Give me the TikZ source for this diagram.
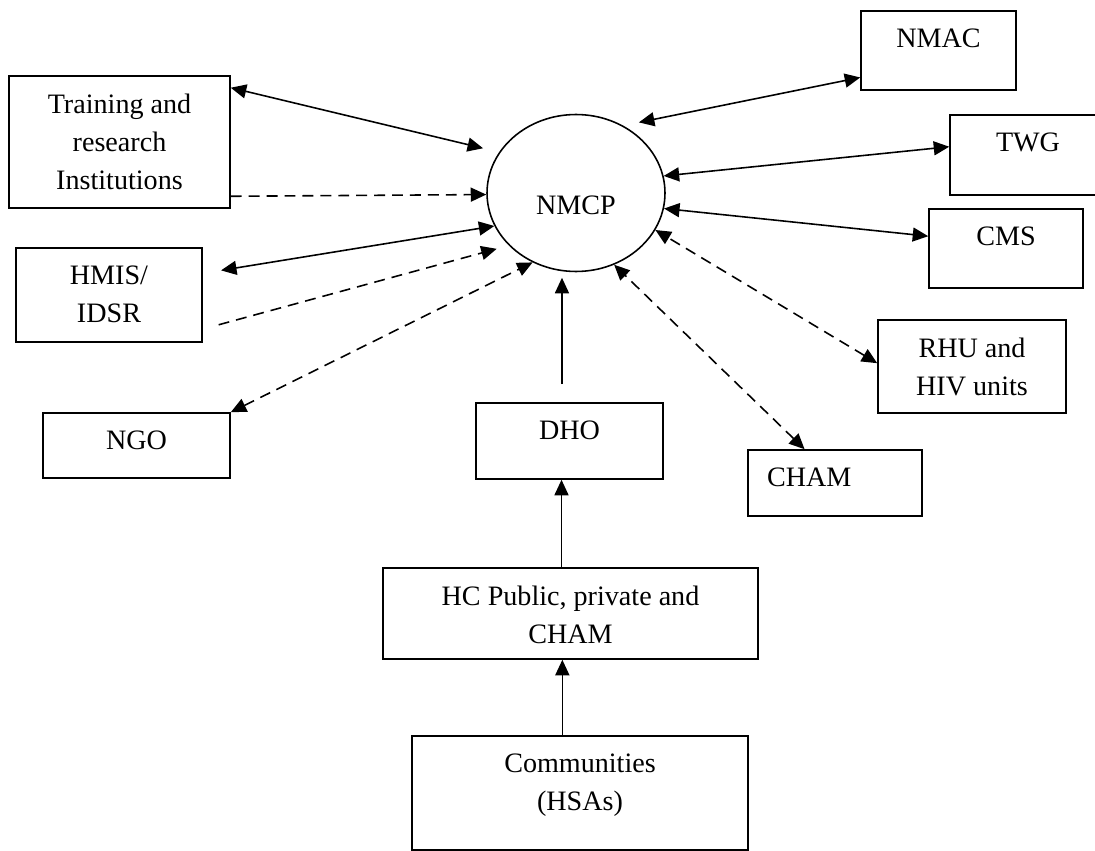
\documentclass[tikz,border=0pt]{standalone}
\usepackage{fontspec}
\setmainfont{Liberation Serif}
\usetikzlibrary{arrows.meta,shapes.geometric}

\begin{document}
\begin{tikzpicture}[x=0.02cm, y=-0.02cm, line width=0.9pt,
  font=\fontsize{16}{21.8}\selectfont,
  >={Triangle[length=0.31cm,width=0.28cm]},
  box/.style 2 args={draw, rectangle, inner sep=0pt, minimum width=#1, minimum height=#2},
  txt/.style={anchor=north, inner sep=0pt, yshift=-0.356cm, align=center, draw=none},
  dsh/.style={dash pattern=on 6.2pt off 4pt}]
\useasboundingbox (0,0) rectangle (1095,851);

\node (nmcp) at (576,193) [draw, ellipse, inner sep=0pt, minimum width=3.56cm, minimum height=3.14cm,
  label={[inner sep=0pt, yshift=-0.24cm]center:NMCP}] {};

\node (trn) at (119.5,142) [box={4.42cm}{2.64cm}, label={[txt]north:Training and\\research\\Institutions}] {};
\node (hmis) at (109,295) [box={3.72cm}{1.88cm}, label={[txt]north:HMIS/\\IDSR}] {};
\node (ngo) at (136.5,445.5) [box={3.74cm}{1.30cm}, label={[txt]north:NGO}] {};
\node (nmac) at (938.5,50.5) [box={3.10cm}{1.58cm}, label={[txt]north:NMAC}] {};
\node (twg) at (1028,155) [box={3.12cm}{1.60cm}, label={[txt]north:TWG}] {};
\node (cms) at (1006,248.5) [box={3.08cm}{1.58cm}, label={[txt]north:CMS}] {};
\node (rhu) at (972,366.5) [box={3.76cm}{1.86cm}, label={[txt]north:RHU and\\HIV units}] {};
\node (cham) at (835,483) [box={3.48cm}{1.32cm}, label={[txt, anchor=north west, xshift=0.38cm]north west:CHAM}] {};
\node (dho) at (569.5,441) [box={3.74cm}{1.52cm}, label={[txt]north:DHO}] {};
\node (hc) at (570.5,613.5) [box={7.50cm}{1.82cm}, label={[txt]north:HC Public, private and\\CHAM}] {};
\node (com) at (580,793) [box={6.72cm}{2.28cm}, label={[txt]north:Communities\\(HSAs)}] {};

\draw [<->, shorten >=0.33cm] (trn.26) -- (nmcp.152);
\draw [->, dsh] (trn.-26) -- (nmcp.181);
\draw [<->, shorten <=0.37cm] (hmis.13) -- (nmcp.202);
\draw [->, dsh, shorten <=0.33cm, shorten >=0.25cm] (hmis.-20) -- (nmcp.218);
\draw [<->, dsh] (ngo.north east) -- (nmcp.238);
\draw [<->, shorten >=0.32cm] (nmac.199) -- (nmcp.55);
\draw [<->] (twg.174) -- (nmcp.11);
\draw [<->] (cms.171) -- (nmcp.-10);
\draw [<->, dsh] (rhu.178) -- (nmcp.-25);
\draw [<->, dsh] (cham.132) -- (nmcp.-62);
\draw [->, shorten <=0.36cm, shorten >=0.11cm] (dho.101) -- (dho.101 |- nmcp.south);
\draw [->] (hc.101) -- (hc.101 |- dho.south);
\draw [->] (com.107) -- (com.107 |- hc.south);
\end{tikzpicture}
\end{document}
